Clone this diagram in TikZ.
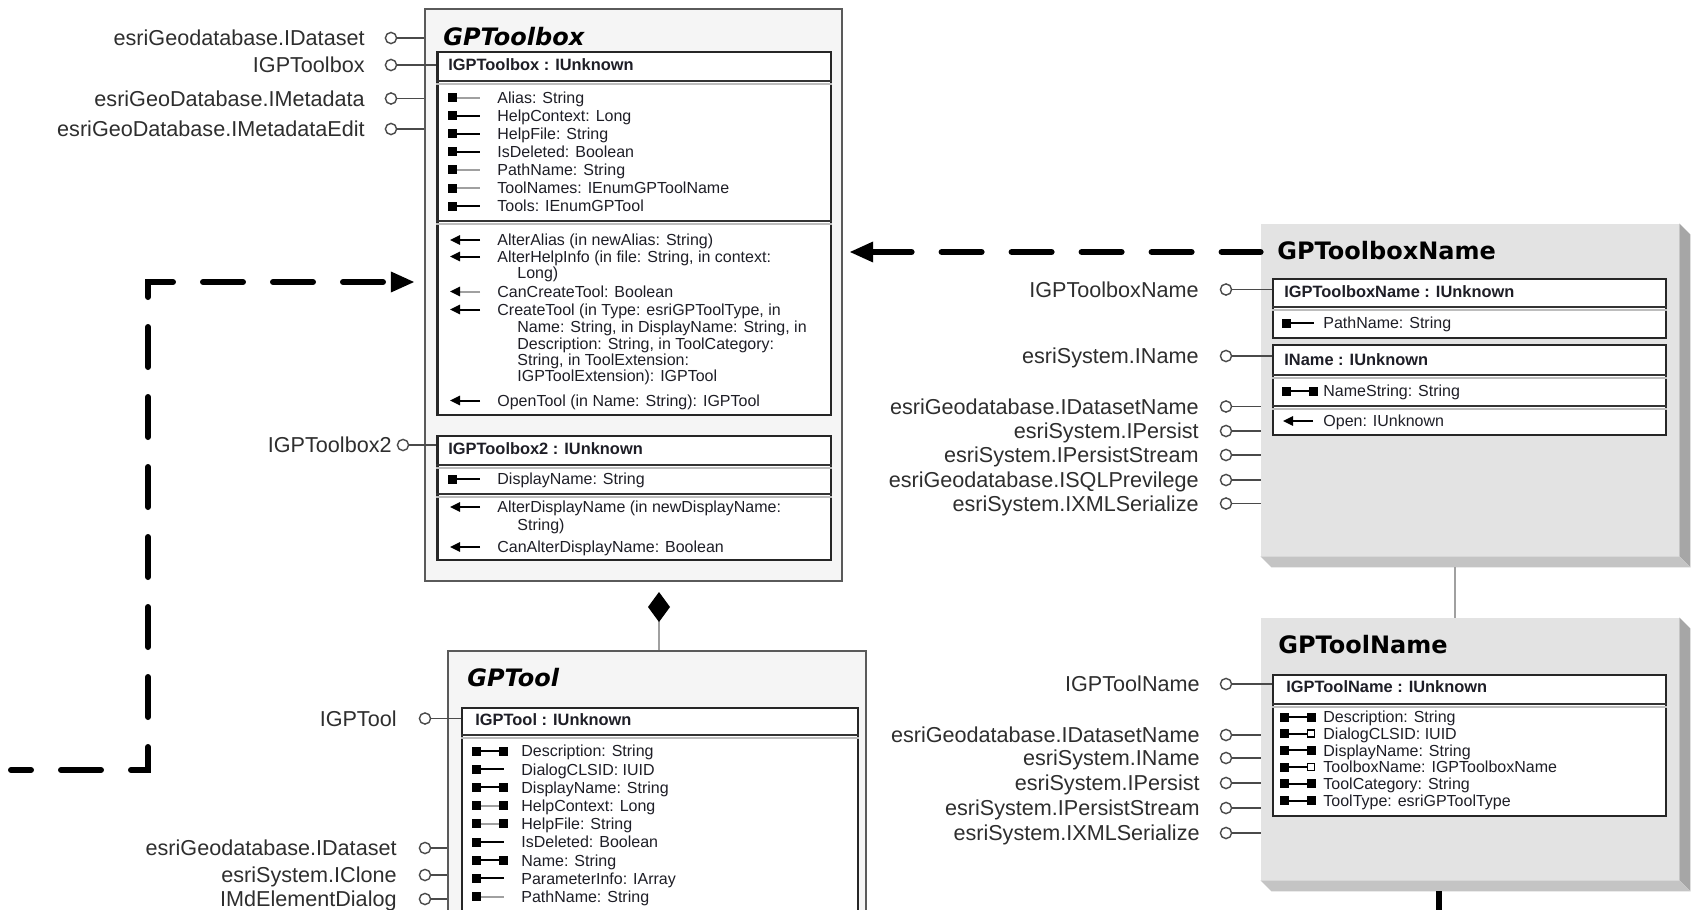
\documentclass[tikz,border=0pt]{standalone}
\usepackage{fontspec}
\setmainfont{Liberation Sans}
\newfontfamily\headfont{DejaVu Sans}
\usetikzlibrary{arrows.meta,fit}

\definecolor{ink}{HTML}{1E1E26}
\definecolor{labelink}{HTML}{2E2E2E}
\definecolor{frame}{HTML}{5A5A5A}
\definecolor{panel}{HTML}{F5F5F5}
\definecolor{coclass}{HTML}{E3E3E3}
\definecolor{sideshade}{HTML}{A6A6A6}
\definecolor{baseshade}{HTML}{C4C4C4}
\definecolor{stemgray}{HTML}{4A4A4A}
\definecolor{sepgray}{HTML}{BDBDBD}
\definecolor{faint}{HTML}{A0A0A0}

% property / method glyphs: [stem colour]{x}{y of centre line}
\newcommand\icoRO[3][black]{%
  \fill[black] (#2,#3-4.5) rectangle ++(9,9);
  \draw[line width=1pt,#1] (#2+9,#3) -- ++(23,0);}
\newcommand\icoRW[3][black]{%
  \fill[black] (#2,#3-4.5) rectangle ++(9,9);
  \draw[line width=1pt,#1] (#2+9,#3) -- ++(18,0);
  \fill[black] (#2+27,#3-4.5) rectangle ++(9,9);}
\newcommand\icoRef[2]{%
  \fill[black] (#1,#2-4.5) rectangle ++(9,9);
  \draw[line width=1pt] (#1+9,#2) -- ++(18,0);
  \draw[line width=0.8pt,fill=white] (#1+27.5,#2-3.5) rectangle ++(7,7);}
\newcommand\icoFn[3][black]{%
  \draw[line width=1pt,#1,-{Triangle[length=5pt,width=4.6pt,color=black]}] (#2+30,#3) -- (#2,#3);}
% horizontal divider across an interface box
\newcommand\rowsep[2]{%
  \draw[line width=0.8pt,black!80] (#1.west |- 0,#2) -- (#1.east |- 0,#2);
  \draw[line width=0.9pt,sepgray] ([yshift=-1.3pt]#1.west |- 0,#2) -- ([yshift=-1.3pt]#1.east |- 0,#2);}
% extruded edges of a coclass
\newcommand\extrude[1]{%
  \fill[sideshade] (#1.north east) -- ++(11,11) -- ([shift={(11,11)}]#1.south east) -- (#1.south east) -- cycle;
  \fill[baseshade] (#1.south west) -- ++(11,11) -- ([shift={(11,11)}]#1.south east) -- (#1.south east) -- cycle;}

\begin{document}
\begin{tikzpicture}[x=0.5pt,y=-0.5pt,
  lbl/.style={anchor=base east, yshift=-3.9pt, inner sep=0pt, text=labelink, font=\fontsize{10.8}{12}\selectfont},
  ball/.style={circle, draw=stemgray, line width=0.7pt, fill=white, minimum size=5.6pt, inner sep=0pt},
  stem/.style={draw=stemgray, line width=0.75pt},
  hdr/.style={anchor=base west, yshift=-2.9pt, inner sep=0pt, text=ink, font=\bfseries\fontsize{8.2}{9}\selectfont},
  attr/.style={anchor=base west, yshift=-2.9pt, inner sep=0pt, text=ink, font=\fontsize{8}{9}\selectfont},
  ttl/.style={anchor=base west, yshift=-4.4pt, inner sep=0pt, text=black, font=\headfont\bfseries\fontsize{12}{14}\selectfont},
  ttlit/.style={anchor=base west, yshift=-4.4pt, inner sep=0pt, text=black, font=\headfont\bfseries\itshape\fontsize{12}{14}\selectfont},
  abstractbox/.style={draw=frame, line width=1.1pt, fill=panel, inner sep=0pt},
  ifacebox/.style={draw=black!85, line width=1.1pt, fill=white, inner sep=0pt},
  coclassbox/.style={fill=coclass, inner sep=0pt},
  depline/.style={line width=3pt, dash pattern=on 20pt off 15pt, line cap=round},
  dep/.style={depline, dash phase=10pt, -{Triangle[length=12pt,width=9.5pt]}},
  depback/.style={depline, dash phase=0pt, {Triangle[length=12pt,width=9.5pt]}-},
  link/.style={draw=faint, line width=1.2pt}]
\useasboundingbox (0,0) rectangle (1694,910);
\fill[white] (0,0) rectangle (1694,910);

% ================= GPToolbox (abstract class)
\node[abstractbox, fit={(425,9) (842,581)}] (tbox) {};
\node[ttlit] (tboxtitle) at (443,37) {GPToolbox};

% IGPToolbox
\node[ifacebox, fit={(437.5,52) (831,415)}] (tbi) {};
\node[hdr] (tbih) at (448,65) {IGPToolbox : IUnknown};
\rowsep{tbi}{81}
\rowsep{tbi}{221}
\icoRO[faint]{448}{97.5}  \node[attr] (tbp1) at (497,97.5)  {Alias: String};
\icoRO{448}{115.6}        \node[attr] (tbp2) at (497,115.6) {HelpContext: Long};
\icoRO{448}{133.7}        \node[attr] (tbp3) at (497,133.7) {HelpFile: String};
\icoRO{448}{151.8}        \node[attr] (tbp4) at (497,151.8) {IsDeleted: Boolean};
\icoRO[faint]{448}{169.9} \node[attr] (tbp5) at (497,169.9) {PathName: String};
\icoRO[faint]{448}{188}   \node[attr] (tbp6) at (497,188)   {ToolNames: IEnumGPToolName};
\icoRO{448}{206.1}        \node[attr] (tbp7) at (497,206.1) {Tools: IEnumGPTool};
\icoFn{450}{240}          \node[attr] (tbm1) at (497,240)   {AlterAlias (in newAlias: String)};
\icoFn{450}{256.5}        \node[attr] (tbm2) at (497,256.5) {AlterHelpInfo (in file: String, in context:};
                          \node[attr] (tbm2b) at (517,273)  {Long)};
\icoFn[faint]{450}{291.5} \node[attr] (tbm3) at (497,291.5) {CanCreateTool: Boolean};
\icoFn{450}{309.5}        \node[attr] (tbm4) at (497,309.5) {CreateTool (in Type: esriGPToolType, in};
                          \node[attr] (tbm4b) at (517,327)  {Name: String, in DisplayName: String, in};
                          \node[attr] (tbm4c) at (517,343.5) {Description: String, in ToolCategory:};
                          \node[attr] (tbm4d) at (517,359.5) {String, in ToolExtension:};
                          \node[attr] (tbm4e) at (517,375.5) {IGPToolExtension): IGPTool};
\icoFn{450}{400.5}        \node[attr] (tbm5) at (497,400.5) {OpenTool (in Name: String): IGPTool};

% IGPToolbox2
\node[ifacebox, fit={(437.5,436) (831,560)}] (tbii) {};
\node[hdr] (tbiih) at (448,449) {IGPToolbox2 : IUnknown};
\rowsep{tbii}{465}
\rowsep{tbii}{494}
\icoRO{448}{479}   \node[attr] (tbq1) at (497,479) {DisplayName: String};
\icoFn{450}{507}   \node[attr] (tbq2) at (497,507) {AlterDisplayName (in newDisplayName:};
                   \node[attr] (tbq2b) at (517,525) {String)};
\icoFn{450}{547}   \node[attr] (tbq3) at (497,547) {CanAlterDisplayName: Boolean};

% interfaces of GPToolbox
\foreach \py/\lab/\k in {38/esriGeodatabase.IDataset/1, 98.5/esriGeoDatabase.IMetadata/3, 129/esriGeoDatabase.IMetadataEdit/4}{
  \node[lbl] (tbl\k) at (365,\py) {\lab};
  \node[ball] (tbb\k) at (391,\py) {};
  \draw[stem] (tbb\k) -- (tbb\k -| tbox.west);
}
\node[lbl] (tbl2) at (365,65) {IGPToolbox};
\node[ball] (tbb2) at (391,65) {};
\draw[stem] (tbb2) -- (tbb2 -| tbi.west);
\node[lbl] (tbl5) at (392,445) {IGPToolbox2};
\node[ball] (tbb5) at (403,445) {};
\draw[stem] (tbb5) -- (tbb5 -| tbii.west);

% ================= GPTool (abstract class)
\node[abstractbox, fit={(448,651) (866,960)}] (tool) {};
\node[ttlit] (tooltitle) at (467,678) {GPTool};
\node[ifacebox, fit={(462,708) (858,960)}] (tooli) {};
\node[hdr] (toolih) at (475,720) {IGPTool : IUnknown};
\rowsep{tooli}{735}
\icoRW{472}{751}         \node[attr] (tp1) at (521,751)   {Description: String};
\icoRO{472}{769.2}       \node[attr] (tp2) at (521,769.2) {DialogCLSID: IUID};
\icoRW{472}{787.4}       \node[attr] (tp3) at (521,787.4) {DisplayName: String};
\icoRW[faint]{472}{805.6} \node[attr] (tp4) at (521,805.6) {HelpContext: Long};
\icoRW[faint]{472}{823.8} \node[attr] (tp5) at (521,823.8) {HelpFile: String};
\icoRO{472}{842}         \node[attr] (tp6) at (521,842)   {IsDeleted: Boolean};
\icoRW{472}{860.2}       \node[attr] (tp7) at (521,860.2) {Name: String};
\icoRO{472}{878.4}       \node[attr] (tp8) at (521,878.4) {ParameterInfo: IArray};
\icoRO[faint]{472}{896.6} \node[attr] (tp9) at (521,896.6) {PathName: String};

\node[lbl] (tl1) at (397,718.5) {IGPTool};
\node[ball] (tb1) at (425,718.5) {};
\draw[stem] (tb1) -- (tb1 -| tooli.west);
\foreach \py/\lab/\k in {848/esriGeodatabase.IDataset/2, 875/esriSystem.IClone/3, 899/IMdElementDialog/4}{
  \node[lbl] (tl\k) at (397,\py) {\lab};
  \node[ball] (tb\k) at (425,\py) {};
  \draw[stem] (tb\k) -- (tb\k -| tool.west);
}

% composition GPToolbox <>-- GPTool
\coordinate (comp) at (659,592);
\draw[link, {Diamond[length=15pt,width=11pt,color=black]}-] (comp) -- (comp |- tool.north);

% ================= GPToolboxName (coclass)
\node[coclassbox, fit={(1261,224) (1679,556)}] (tbn) {};
\extrude{tbn}
\node[ttl] (tbntitle) at (1277,250.5) {GPToolboxName};
\node[ifacebox, fit={(1273,279) (1666,338)}] (tbna) {};
\node[hdr] (tbnah) at (1284,292) {IGPToolboxName : IUnknown};
\rowsep{tbna}{307}
\icoRO{1282}{323}  \node[attr] (tbnp1) at (1323,323) {PathName: String};
\node[ifacebox, fit={(1273,345) (1666,435)}] (tbnb) {};
\node[hdr] (tbnbh) at (1284,360) {IName : IUnknown};
\rowsep{tbnb}{375}
\rowsep{tbnb}{406}
\icoRW{1282}{391}  \node[attr] (tbnp2) at (1323,391) {NameString: String};
\icoFn{1283}{421}  \node[attr] (tbnm1) at (1323,421) {Open: IUnknown};

\node[lbl] (nl1) at (1199,289.5) {IGPToolboxName};
\node[ball] (nb1) at (1226,289.5) {};
\draw[stem] (nb1) -- (nb1 -| tbna.west);
\node[lbl] (nl2) at (1199,356) {esriSystem.IName};
\node[ball] (nb2) at (1226,356) {};
\draw[stem] (nb2) -- (nb2 -| tbnb.west);
\foreach \py/\lab/\k in {406.5/esriGeodatabase.IDatasetName/3, 431/esriSystem.IPersist/4, 455/esriSystem.IPersistStream/5, 480/esriGeodatabase.ISQLPrevilege/6, 503.5/esriSystem.IXMLSerialize/7}{
  \node[lbl] (nl\k) at (1199,\py) {\lab};
  \node[ball] (nb\k) at (1226,\py) {};
  \draw[stem] (nb\k) -- (nb\k -| tbn.west);
}

% ================= GPToolName (coclass)
\node[coclassbox, fit={(1261,618) (1679,880)}] (tn) {};
\extrude{tn}
\node[ttl] (tntitle) at (1278,645) {GPToolName};
\node[ifacebox, fit={(1273,675) (1666,816)}] (tni) {};
\node[hdr] (tnih) at (1286,687) {IGPToolName : IUnknown};
\rowsep{tni}{704}
\icoRW{1280}{717}    \node[attr] (tnp1) at (1323,717)   {Description: String};
\icoRef{1280}{733.7} \node[attr] (tnp2) at (1323,733.7) {DialogCLSID: IUID};
\icoRW{1280}{750.4}  \node[attr] (tnp3) at (1323,750.4) {DisplayName: String};
\icoRef{1280}{767.1} \node[attr] (tnp4) at (1323,767.1) {ToolboxName: IGPToolboxName};
\icoRW{1280}{783.8}  \node[attr] (tnp5) at (1323,783.8) {ToolCategory: String};
\icoRW{1280}{800.5}  \node[attr] (tnp6) at (1323,800.5) {ToolType: esriGPToolType};

\node[lbl] (ml1) at (1200,684) {IGPToolName};
\node[ball] (mb1) at (1226,684) {};
\draw[stem] (mb1) -- (mb1 -| tni.west);
\foreach \py/\lab/\k in {735/esriGeodatabase.IDatasetName/2, 758/esriSystem.IName/3, 783/esriSystem.IPersist/4, 808/esriSystem.IPersistStream/5, 833/esriSystem.IXMLSerialize/6}{
  \node[lbl] (ml\k) at (1200,\py) {\lab};
  \node[ball] (mb\k) at (1226,\py) {};
  \draw[stem] (mb\k) -- (mb\k -| tn.west);
}

% association between the two name coclasses
\coordinate (linkx) at (1455,0);
\draw[link] ([yshift=-5.5pt]linkx |- tbn.south) -- (linkx |- tn.north);

% relationship leaving GPToolName downwards
\coordinate (tailx) at (1439,0);
\draw[line width=3pt] ([yshift=-5.5pt]tailx |- tn.south) -- ++(0,40);

% ================= dependency arrows into GPToolbox
\coordinate (depstart) at (11,770);
\coordinate (depbend) at (148,282);
\draw[dep] (depstart) -| (depbend) -- ([xshift=-4.5pt]depbend -| tbox.west);
\coordinate (namey) at (0,252);
\draw[depback] ([xshift=3pt]namey -| tbox.east) -- (namey -| tbn.west);
\end{tikzpicture}
\end{document}
